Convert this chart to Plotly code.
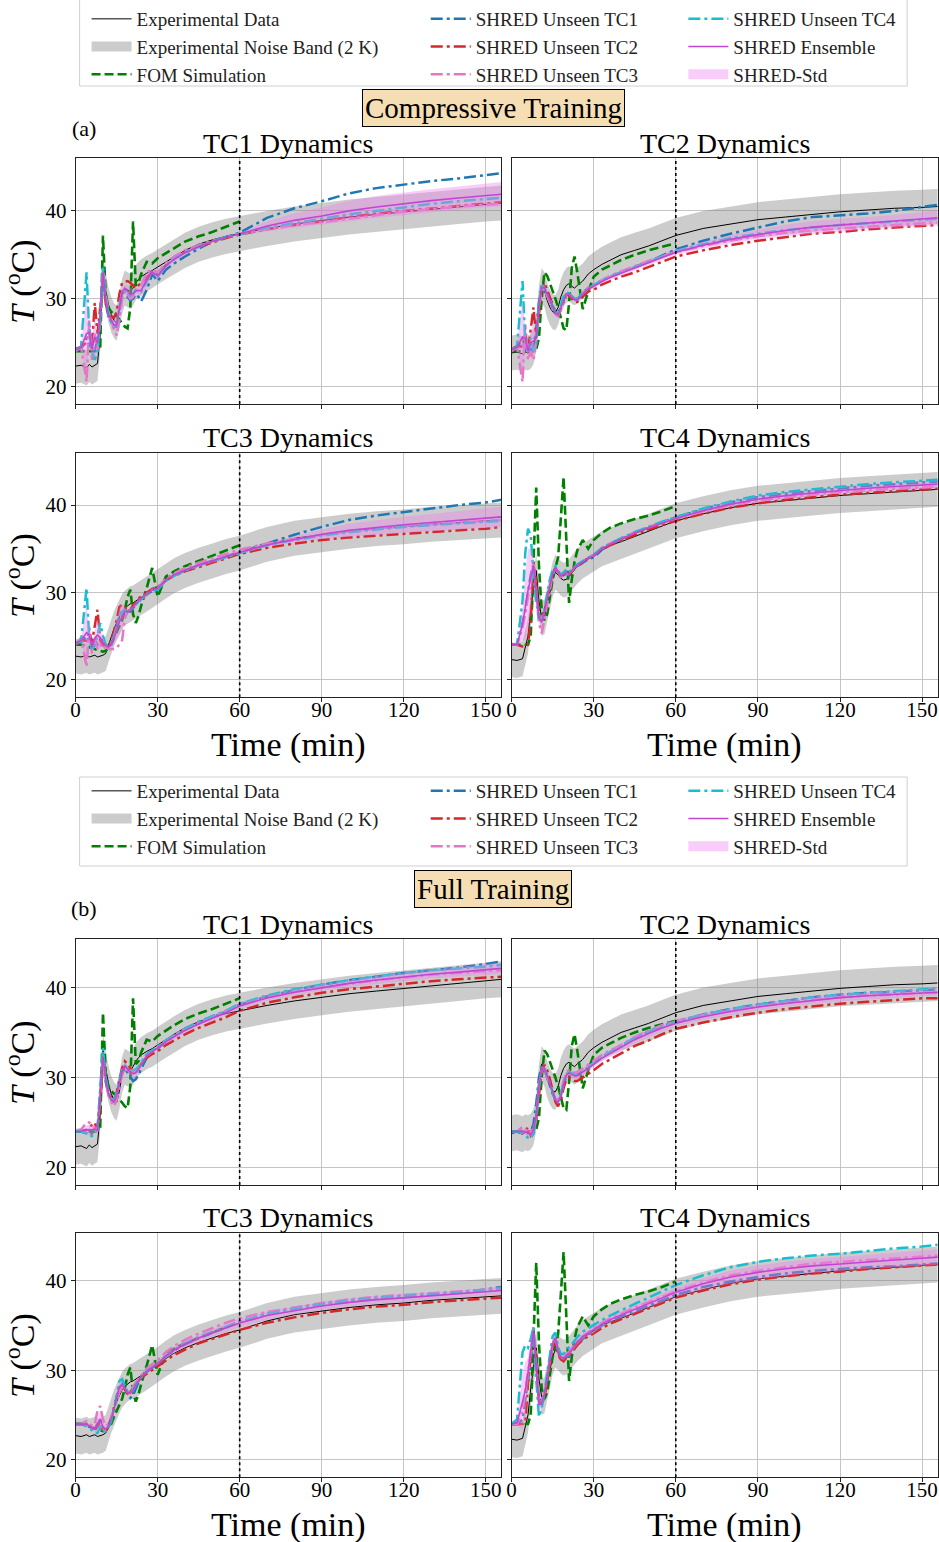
import numpy as np
import plotly.graph_objects as go

W, H = 939, 1542
FONT = "Liberation Serif"

# ---------------- data ----------------
TIME = [0, 2, 4, 5, 6, 7, 8, 9, 10, 11, 12, 13, 14, 15, 16, 17, 18, 19, 20, 21, 22, 23, 24,
        26, 28, 30, 33, 36, 40, 45, 50, 55, 60, 70, 80, 90, 100, 110, 120, 130, 140, 150, 155.7]
FOM_END = 60  # FOM simulation is shown up to 60 min

TC_NAMES = ["TC1", "TC2", "TC3", "TC4"]
X_TICKS = [0, 30, 60, 90, 120, 150]
Y_TICKS = [20, 30, 40]
NOISE_BAND_K = 2.0

# Experimental data (same experiment in both panels)
EXP_TC1 = [22.3, 22.4, 22.1, 22.5, 22.2, 22.4, 22.6, 26.0, 33.0, 31.0, 29.3, 28.2, 27.5, 27.2, 28.5, 30.3, 31.2, 31.0, 30.8, 31.2, 31.8, 32.2, 32.5,
           32.9, 33.2, 33.6, 34.2, 34.8, 35.5, 36.2, 36.7, 37.1, 37.4, 38.0, 38.5, 38.9, 39.3, 39.6, 39.9, 40.2, 40.5, 40.8, 40.9]
EXP_TC2 = [23.8, 23.9, 23.7, 23.9, 23.8, 24.0, 24.5, 26.0, 29.5, 31.5, 31.0, 29.8, 29.0, 28.5, 28.4, 29.0, 30.2, 31.0, 31.5, 31.7, 31.4, 31.2, 31.5,
           32.0, 32.8, 33.3, 33.9, 34.4, 35.0, 35.5, 36.0, 36.6, 37.2, 38.0, 38.5, 39.0, 39.3, 39.6, 39.9, 40.1, 40.3, 40.4, 40.5]
EXP_TC3 = [22.7, 22.6, 22.8, 22.6, 22.7, 22.8, 22.6, 22.7, 22.8, 23.0, 24.0, 25.0, 25.8, 26.5, 27.2, 27.8, 28.2, 28.5, 28.7, 28.8, 29.0, 29.2, 29.4,
           29.8, 30.2, 30.6, 31.3, 31.9, 32.5, 33.1, 33.6, 34.1, 34.5, 35.5, 36.2, 36.6, 37.0, 37.3, 37.5, 37.8, 38.0, 38.2, 38.3]
EXP_TC4 = [22.3, 22.2, 22.4, 23.8, 25.0, 28.0, 30.5, 32.5, 29.0, 27.0, 27.2, 28.5, 30.0, 31.5, 32.3, 32.0, 31.6, 31.4, 31.5, 31.8, 32.2, 32.6, 33.0,
           33.6, 34.0, 34.4, 35.0, 35.4, 35.8, 36.4, 37.0, 37.6, 38.2, 39.0, 39.7, 40.2, 40.5, 40.8, 41.1, 41.3, 41.5, 41.7, 41.8]

# FOM simulation (0 .. 60 min)
FOM_TC1 = [24.0, 24.0, 24.0, 24.0, 24.0, 24.0, 24.1, 24.5, 37.2, 30.5, 29.0, 28.5, 28.2, 28.0, 27.6, 27.2, 26.8, 26.6, 29.0, 38.8, 31.5, 31.8, 32.8,
           34.2, 34.0, 34.6, 35.2, 35.8, 36.5, 37.1, 37.6, 38.2, 38.8]
FOM_TC2 = [24.0, 24.0, 24.0, 24.0, 24.0, 24.0, 24.0, 24.2, 25.5, 30.0, 33.0, 32.6, 31.8, 31.0, 30.0, 29.0, 27.8, 26.6, 26.4, 29.5, 33.5, 34.8, 33.0,
           28.8, 30.8, 32.5, 33.3, 33.8, 34.4, 35.0, 35.5, 35.9, 36.3]
FOM_TC3 = [24.0, 24.0, 23.8, 23.7, 23.6, 23.5, 23.4, 23.3, 23.2, 23.3, 23.6, 24.0, 24.8, 25.5, 26.0, 26.8, 28.0, 29.5, 30.3, 27.5, 26.5, 27.3, 28.5,
           30.5, 32.8, 29.5, 31.8, 32.4, 33.0, 33.6, 34.2, 34.8, 35.4]
FOM_TC4 = [24.0, 24.0, 24.0, 24.0, 24.0, 25.0, 33.0, 42.0, 33.0, 28.0, 26.8, 27.5, 29.5, 31.5, 32.8, 34.0, 38.5, 43.2, 36.0, 28.8, 31.5, 33.5, 34.8,
           36.0, 35.0, 36.0, 36.8, 37.4, 37.9, 38.4, 38.8, 39.3, 39.9]

# (a) Compressive training: SHRED models with unseen TC1..TC4, predictions for each TC panel
CMP_TC1_U1 = [24.2, 24.2, 25.5, 24.5, 25.5, 24.0, 25.5, 28.0, 33.0, 29.5, 28.0, 27.3, 26.8, 26.8, 28.5, 30.5, 30.8, 30.2, 29.8, 30.0, 30.5, 30.2, 29.7,
              31.0, 32.8, 32.0, 33.3, 34.0, 34.8, 35.7, 36.5, 37.0, 37.5, 39.2, 40.3, 41.1, 42.0, 42.6, 43.0, 43.4, 43.7, 44.1, 44.3]
CMP_TC1_U2 = [24.3, 24.5, 25.0, 26.5, 24.5, 29.5, 26.0, 29.0, 32.0, 29.5, 28.0, 28.0, 27.8, 28.5, 30.5, 31.8, 31.9, 32.0, 31.8, 31.5, 31.2, 31.5, 31.8,
              32.5, 33.0, 32.8, 33.8, 34.6, 35.3, 35.9, 36.4, 36.9, 37.3, 37.9, 38.4, 38.8, 39.3, 39.7, 40.0, 40.3, 40.6, 40.9, 41.0]
CMP_TC1_U3 = [24.0, 24.5, 20.5, 27.5, 23.0, 26.0, 24.0, 28.0, 33.5, 30.5, 28.5, 27.5, 26.5, 25.8, 27.5, 30.0, 31.0, 30.5, 30.0, 30.2, 30.8, 31.0, 31.5,
              33.0, 33.3, 33.0, 34.0, 34.8, 35.5, 36.1, 36.6, 37.0, 37.4, 37.9, 38.4, 38.7, 39.1, 39.5, 39.9, 40.2, 40.5, 40.7, 40.8]
CMP_TC1_U4 = [24.2, 24.5, 33.0, 26.0, 24.0, 23.0, 24.0, 27.5, 33.5, 30.0, 28.3, 27.3, 26.8, 27.0, 29.0, 30.8, 31.0, 30.7, 30.3, 30.5, 31.0, 31.0, 30.8,
              32.0, 33.0, 32.5, 33.8, 34.5, 35.3, 35.9, 36.5, 37.0, 37.3, 38.1, 38.6, 39.1, 39.6, 40.0, 40.4, 40.8, 41.1, 41.4, 41.5]

CMP_TC2_U1 = [24.2, 24.3, 25.5, 24.0, 25.0, 24.0, 24.5, 26.5, 29.5, 31.5, 31.0, 30.3, 29.5, 28.8, 28.3, 28.2, 29.0, 30.0, 30.6, 30.6, 30.2, 29.9, 29.9,
              30.5, 31.2, 31.5, 32.0, 32.5, 33.0, 33.6, 34.2, 34.9, 35.6, 36.6, 37.4, 38.1, 38.8, 39.3, 39.5, 39.7, 40.0, 40.4, 40.7]
CMP_TC2_U2 = [24.2, 24.6, 24.5, 26.0, 24.0, 26.5, 29.0, 25.5, 28.5, 31.0, 31.8, 31.0, 30.0, 29.2, 28.5, 28.0, 28.8, 29.8, 30.4, 30.4, 30.0, 29.6, 29.6,
              30.2, 30.8, 31.0, 31.6, 32.0, 32.5, 33.0, 33.6, 34.2, 34.8, 35.5, 36.1, 36.6, 37.0, 37.4, 37.6, 37.9, 38.1, 38.3, 38.4]
CMP_TC2_U3 = [24.0, 24.5, 20.5, 27.0, 23.0, 24.0, 23.0, 25.0, 29.0, 31.0, 31.0, 30.2, 29.5, 28.8, 28.2, 28.0, 28.8, 29.8, 30.5, 30.6, 30.2, 29.9, 30.0,
              30.7, 31.3, 31.6, 32.1, 32.6, 33.1, 33.7, 34.3, 34.8, 35.3, 36.0, 36.6, 37.1, 37.5, 37.8, 38.0, 38.2, 38.4, 38.6, 38.7]
CMP_TC2_U4 = [24.3, 24.5, 32.0, 25.0, 24.0, 25.5, 24.0, 25.0, 29.5, 31.5, 31.2, 30.5, 29.7, 29.0, 28.5, 28.3, 29.2, 30.2, 30.7, 30.6, 30.3, 30.0, 30.0,
              30.6, 31.2, 31.5, 32.1, 32.5, 33.0, 33.6, 34.2, 34.8, 35.4, 36.2, 36.9, 37.4, 37.8, 38.1, 38.4, 38.6, 38.8, 39.0, 39.1]

CMP_TC3_U1 = [24.2, 24.3, 25.0, 24.5, 24.0, 24.5, 24.0, 24.3, 24.5, 24.0, 23.8, 24.0, 25.0, 26.0, 27.3, 27.8, 28.0, 27.8, 27.8, 28.2, 28.7, 29.0, 29.3,
              29.8, 30.2, 30.4, 31.4, 32.0, 32.5, 33.1, 33.6, 34.1, 34.6, 35.6, 36.6, 37.5, 38.3, 38.8, 39.2, 39.6, 40.0, 40.3, 40.6]
CMP_TC3_U2 = [24.2, 24.5, 24.5, 25.5, 24.3, 26.0, 28.0, 24.5, 24.0, 23.8, 23.8, 24.5, 25.5, 26.8, 28.3, 28.6, 28.3, 27.8, 28.0, 28.5, 29.0, 29.3, 29.5,
              30.0, 30.4, 30.6, 31.4, 31.9, 32.4, 32.9, 33.4, 33.9, 34.4, 35.1, 35.6, 36.0, 36.3, 36.5, 36.7, 36.9, 37.1, 37.3, 37.5]
CMP_TC3_U3 = [24.0, 24.8, 21.5, 26.0, 23.0, 24.5, 23.5, 24.0, 23.5, 23.8, 23.5, 23.5, 23.5, 23.6, 24.0, 24.5, 27.0, 27.8, 28.0, 28.3, 28.7, 29.0, 29.3,
              29.8, 30.3, 30.5, 31.6, 32.2, 32.8, 33.4, 33.9, 34.4, 34.9, 35.6, 36.1, 36.6, 37.0, 37.3, 37.6, 37.8, 38.0, 38.2, 38.3]
CMP_TC3_U4 = [24.2, 24.4, 30.5, 24.5, 23.5, 24.0, 25.0, 26.5, 25.0, 24.0, 23.8, 24.0, 25.0, 26.0, 27.0, 27.8, 28.0, 27.8, 27.9, 28.2, 28.6, 29.0, 29.3,
              29.8, 30.2, 30.3, 31.3, 31.9, 32.5, 33.1, 33.6, 34.0, 34.5, 35.4, 36.0, 36.5, 36.9, 37.2, 37.5, 37.7, 37.9, 38.1, 38.2]

CMP_TC4_U1 = [24.0, 24.0, 26.5, 28.0, 30.0, 32.0, 33.3, 30.5, 27.5, 27.0, 27.8, 29.3, 30.8, 32.0, 32.8, 32.3, 31.8, 32.0, 32.2, 31.9, 32.3, 32.8, 33.0,
              33.4, 33.8, 34.0, 34.9, 35.5, 36.1, 36.8, 37.4, 38.0, 38.6, 39.5, 40.3, 40.9, 41.3, 41.6, 41.9, 42.2, 42.4, 42.6, 42.7]
CMP_TC4_U2 = [24.0, 24.0, 23.8, 23.8, 24.0, 27.0, 33.5, 31.0, 27.5, 27.0, 27.8, 29.3, 30.8, 32.0, 32.8, 32.3, 31.8, 32.0, 32.2, 32.0, 32.4, 32.8, 33.0,
              33.5, 33.9, 34.2, 34.9, 35.4, 35.9, 36.6, 37.2, 37.7, 38.2, 39.0, 39.7, 40.2, 40.6, 40.9, 41.2, 41.4, 41.6, 41.8, 41.9]
CMP_TC4_U3 = [24.0, 24.0, 26.0, 27.5, 29.5, 31.0, 33.5, 30.0, 26.5, 25.3, 27.0, 29.0, 30.5, 32.0, 32.8, 32.3, 31.8, 32.0, 32.2, 32.0, 32.4, 32.9, 33.1,
              33.6, 34.0, 34.3, 35.1, 35.6, 36.2, 36.9, 37.5, 38.0, 38.5, 39.3, 40.0, 40.5, 40.9, 41.2, 41.5, 41.7, 41.9, 42.0, 42.1]
CMP_TC4_U4 = [24.0, 24.0, 29.0, 34.5, 37.3, 36.5, 32.0, 29.0, 27.0, 27.0, 28.0, 29.8, 31.5, 32.5, 33.0, 32.5, 32.0, 32.3, 32.6, 32.3, 32.6, 33.0, 33.2,
              33.6, 34.0, 34.3, 35.1, 35.6, 36.2, 36.9, 37.5, 38.1, 38.6, 39.6, 40.4, 41.1, 41.5, 41.8, 42.1, 42.4, 42.6, 42.8, 42.9]

# (b) Full training
FUL_TC1_U1 = [24.0, 24.0, 23.8, 23.6, 23.8, 24.0, 24.3, 28.0, 32.0, 29.5, 28.3, 27.5, 27.3, 28.0, 29.3, 30.5, 31.0, 30.5, 30.0, 29.6, 29.8, 30.3, 31.0,
              32.2, 32.8, 33.2, 34.0, 34.6, 35.3, 36.0, 36.7, 37.3, 38.1, 39.0, 39.7, 40.3, 40.8, 41.2, 41.6, 41.9, 42.2, 42.6, 42.9]
FUL_TC1_U2 = [24.0, 24.0, 24.2, 24.5, 24.8, 25.0, 24.0, 27.0, 31.5, 30.0, 28.5, 27.8, 27.5, 28.3, 29.8, 31.0, 31.8, 31.5, 31.0, 30.8, 30.8, 31.0, 31.5,
              32.2, 32.6, 32.9, 33.6, 34.1, 34.8, 35.5, 36.1, 36.7, 37.4, 38.3, 38.9, 39.4, 39.8, 40.1, 40.4, 40.7, 40.9, 41.1, 41.2]
FUL_TC1_U3 = [24.0, 24.2, 25.0, 25.0, 24.8, 24.3, 24.0, 28.0, 32.5, 29.5, 28.0, 27.3, 26.8, 27.5, 28.8, 30.3, 31.0, 30.8, 30.5, 30.5, 30.6, 31.0, 31.6,
              32.6, 33.0, 33.4, 34.1, 34.7, 35.4, 36.1, 36.8, 37.4, 38.1, 38.9, 39.5, 40.0, 40.4, 40.8, 41.1, 41.4, 41.6, 41.8, 41.9]
FUL_TC1_U4 = [24.0, 24.0, 23.8, 23.5, 23.5, 23.8, 24.3, 28.5, 33.3, 30.0, 28.3, 27.5, 27.5, 28.3, 29.5, 30.8, 31.3, 31.0, 30.8, 30.8, 30.9, 31.2, 31.7,
              32.6, 33.0, 33.4, 34.1, 34.7, 35.4, 36.2, 36.8, 37.4, 38.2, 39.1, 39.8, 40.3, 40.8, 41.2, 41.6, 41.9, 42.1, 42.3, 42.5]

FUL_TC2_U1 = [24.0, 24.0, 24.0, 23.8, 23.8, 24.0, 24.8, 27.0, 30.0, 31.3, 30.8, 30.0, 29.0, 28.2, 27.6, 27.4, 28.0, 29.3, 30.3, 30.6, 30.5, 30.3, 30.3,
              30.7, 31.2, 31.6, 32.3, 32.8, 33.5, 34.4, 35.1, 35.7, 36.2, 37.0, 37.6, 38.1, 38.5, 38.9, 39.2, 39.4, 39.5, 39.7, 39.8]
FUL_TC2_U2 = [24.0, 24.0, 23.8, 24.0, 24.5, 23.5, 23.8, 25.0, 28.0, 30.8, 31.4, 30.8, 29.8, 28.5, 27.3, 26.8, 27.5, 28.8, 29.8, 30.0, 29.8, 29.6, 29.6,
              30.0, 30.4, 30.8, 31.5, 32.0, 32.6, 33.5, 34.1, 34.8, 35.4, 36.1, 36.7, 37.2, 37.6, 37.9, 38.2, 38.4, 38.6, 38.8, 38.8]
FUL_TC2_U3 = [24.0, 24.0, 24.5, 24.3, 23.8, 24.0, 24.2, 25.5, 29.0, 30.8, 30.8, 30.0, 29.2, 28.3, 27.6, 27.5, 28.3, 29.6, 30.6, 30.8, 30.7, 30.5, 30.6,
              31.0, 31.4, 31.8, 32.5, 33.0, 33.6, 34.5, 35.2, 35.8, 36.3, 36.9, 37.4, 37.9, 38.3, 38.6, 38.9, 39.1, 39.2, 39.4, 39.4]
FUL_TC2_U4 = [24.0, 24.0, 23.8, 23.5, 23.3, 23.2, 23.8, 25.5, 29.0, 31.0, 31.0, 30.2, 29.3, 28.3, 27.5, 27.3, 28.0, 29.3, 30.3, 30.6, 30.5, 30.3, 30.3,
              30.7, 31.2, 31.6, 32.3, 32.8, 33.5, 34.4, 35.1, 35.7, 36.2, 37.0, 37.6, 38.1, 38.5, 38.9, 39.2, 39.4, 39.6, 39.8, 39.9]

FUL_TC3_U1 = [24.0, 24.0, 23.8, 23.6, 23.5, 23.4, 23.6, 24.5, 23.6, 23.5, 23.8, 24.5, 25.5, 27.0, 28.3, 28.5, 28.0, 27.2, 26.9, 27.2, 28.0, 28.7, 29.1,
              29.8, 30.3, 30.7, 31.6, 32.2, 32.9, 33.6, 34.2, 34.8, 35.4, 36.3, 36.9, 37.4, 37.8, 38.1, 38.3, 38.5, 38.7, 39.0, 39.3]
FUL_TC3_U2 = [24.0, 24.0, 24.0, 24.0, 23.6, 23.4, 24.0, 23.7, 23.2, 23.2, 23.6, 24.5, 25.8, 27.0, 28.0, 28.3, 27.8, 27.4, 27.6, 28.0, 28.5, 28.9, 29.2,
              29.6, 30.0, 30.4, 31.1, 31.7, 32.3, 33.0, 33.5, 34.0, 34.5, 35.3, 35.9, 36.4, 36.8, 37.1, 37.3, 37.6, 37.8, 38.0, 38.1]
FUL_TC3_U3 = [24.0, 24.0, 24.3, 24.0, 23.8, 24.0, 25.5, 26.0, 24.5, 23.8, 24.0, 24.8, 25.5, 26.5, 27.5, 28.0, 27.8, 27.6, 27.8, 28.2, 28.7, 29.1, 29.5,
              30.2, 30.7, 31.1, 32.0, 32.7, 33.4, 34.1, 34.7, 35.3, 35.8, 36.5, 37.0, 37.5, 37.9, 38.2, 38.4, 38.6, 38.8, 39.0, 39.1]
FUL_TC3_U4 = [24.0, 24.0, 23.8, 23.6, 23.3, 23.0, 23.0, 23.8, 23.2, 23.2, 23.6, 24.3, 25.5, 27.0, 28.8, 29.0, 28.3, 27.6, 27.5, 27.8, 28.4, 28.9, 29.2,
              29.9, 30.4, 30.8, 31.6, 32.3, 33.0, 33.7, 34.3, 34.8, 35.4, 36.3, 36.9, 37.4, 37.8, 38.1, 38.3, 38.5, 38.7, 39.0, 39.1]

FUL_TC4_U1 = [24.0, 24.0, 24.5, 26.5, 28.5, 31.0, 34.0, 31.0, 26.8, 26.5, 27.3, 29.0, 31.0, 32.8, 33.5, 32.0, 31.3, 31.2, 31.5, 31.5, 32.0, 32.5, 32.9,
              33.5, 34.0, 34.3, 35.0, 35.5, 36.0, 36.6, 37.2, 37.8, 38.4, 39.3, 39.9, 40.4, 40.8, 41.1, 41.3, 41.5, 41.6, 41.8, 41.9]
FUL_TC4_U2 = [24.0, 24.0, 24.0, 24.2, 28.5, 31.5, 34.0, 31.0, 26.5, 26.2, 27.0, 28.8, 30.8, 32.5, 33.2, 31.8, 31.2, 31.0, 31.4, 31.6, 32.0, 32.4, 32.8,
              33.4, 33.8, 34.1, 34.7, 35.2, 35.7, 36.3, 36.9, 37.5, 38.1, 38.9, 39.6, 40.1, 40.5, 40.8, 41.0, 41.3, 41.5, 41.7, 41.8]
FUL_TC4_U3 = [24.0, 24.0, 25.5, 27.5, 29.5, 32.0, 35.0, 30.5, 26.5, 26.5, 27.5, 29.3, 31.3, 33.0, 33.6, 32.3, 31.5, 31.5, 31.8, 32.0, 32.4, 32.8, 33.2,
              33.8, 34.2, 34.6, 35.3, 35.8, 36.3, 37.0, 37.6, 38.2, 38.8, 39.8, 40.6, 41.1, 41.5, 41.9, 42.1, 42.3, 42.5, 42.7, 42.8]
FUL_TC4_U4 = [24.0, 24.5, 32.0, 32.8, 32.5, 33.5, 34.8, 29.0, 24.8, 25.8, 27.5, 29.8, 32.0, 33.8, 34.2, 32.5, 31.8, 31.8, 32.2, 32.5, 32.9, 33.3, 33.7,
              34.3, 34.7, 35.0, 35.6, 36.1, 36.7, 37.4, 38.1, 38.8, 39.5, 40.6, 41.5, 42.1, 42.5, 42.8, 43.0, 43.3, 43.6, 43.8, 44.0]

EXP = [EXP_TC1, EXP_TC2, EXP_TC3, EXP_TC4]
FOM = [FOM_TC1, FOM_TC2, FOM_TC3, FOM_TC4]
SHRED = {
    0: [[CMP_TC1_U1, CMP_TC1_U2, CMP_TC1_U3, CMP_TC1_U4],
        [CMP_TC2_U1, CMP_TC2_U2, CMP_TC2_U3, CMP_TC2_U4],
        [CMP_TC3_U1, CMP_TC3_U2, CMP_TC3_U3, CMP_TC3_U4],
        [CMP_TC4_U1, CMP_TC4_U2, CMP_TC4_U3, CMP_TC4_U4]],
    1: [[FUL_TC1_U1, FUL_TC1_U2, FUL_TC1_U3, FUL_TC1_U4],
        [FUL_TC2_U1, FUL_TC2_U2, FUL_TC2_U3, FUL_TC2_U4],
        [FUL_TC3_U1, FUL_TC3_U2, FUL_TC3_U3, FUL_TC3_U4],
        [FUL_TC4_U1, FUL_TC4_U2, FUL_TC4_U3, FUL_TC4_U4]],
}
GROUP_TITLES = ["Compressive Training", "Full Training"]
GROUP_LABELS = ["(a)", "(b)"]

for arr in EXP:
    assert len(arr) == len(TIME)
nfom = TIME.index(FOM_END) + 1
for arr in FOM:
    assert len(arr) == nfom
for g in SHRED:
    for panel in SHRED[g]:
        for arr in panel:
            assert len(arr) == len(TIME), len(arr)

# ---------------- style ----------------
SHRED_COLORS = ["#1f77b4", "#d62728", "#e377c2", "#17becf"]
ENS_COLOR = "#c445d2"
STD_FILL = "rgba(238,130,238,0.4)"
STD_LEGEND = "#f9cdf9"
BAND_FILL = "rgba(128,128,128,0.4)"
BAND_LEGEND = "#cccccc"
FOM_COLOR = "#008000"
DASHDOT = "12px,4px,3px,4px"
DASH = "9px,4px"

XDOM_PX = [(71, 499), (509.3, 937.7)]
YDOM_PX = {(0, 0): (158.3, 404.0), (0, 1): (452.7, 697.3),
           (1, 0): (939.3, 1185.0), (1, 1): (1232.7, 1477.3)}
YRANGE = {0: [17.98, 46.0], 1: [18.05, 45.35]}
XRANGE = [0, 155.7]


def fx(px):
    return px / W


def fy(py):
    return 1 - py / H


fig = go.Figure()
t = np.array(TIME, dtype=float)
tf = t[:nfom]

legend_cols = {0: ["legend", "legend2", "legend3"], 1: ["legend4", "legend5", "legend6"]}

layout_axes = {}
shapes = []
annotations = []

for g in (0, 1):
    for k in range(4):
        r, c = divmod(k, 2)
        n = g * 4 + k + 1
        xa = "x" if n == 1 else f"x{n}"
        ya = "y" if n == 1 else f"y{n}"
        first = (k == 0)
        lg = legend_cols[g]

        exp = np.array(EXP[k])
        fom = np.array(FOM[k])
        models = np.array(SHRED[g][k])
        ens = models.mean(axis=0)
        std = models.std(axis=0)

        # noise band
        fig.add_trace(go.Scatter(
            x=np.concatenate([t, t[::-1]]),
            y=np.concatenate([exp + NOISE_BAND_K, (exp - NOISE_BAND_K)[::-1]]),
            fill="toself", fillcolor=BAND_FILL, line=dict(width=0), mode="lines",
            name="Experimental Noise Band (2 K)", showlegend=False,
            xaxis=xa, yaxis=ya, hoverinfo="skip"))
        # experimental
        fig.add_trace(go.Scatter(
            x=t, y=exp, mode="lines", line=dict(color="black", width=1),
            name="Experimental Data", legend=lg[0], legendrank=1,
            showlegend=first, xaxis=xa, yaxis=ya))
        # FOM
        fig.add_trace(go.Scatter(
            x=tf, y=fom, mode="lines", line=dict(color=FOM_COLOR, width=2.6, dash=DASH),
            name="FOM Simulation", legend=lg[0], legendrank=3,
            showlegend=first, xaxis=xa, yaxis=ya))
        # SHRED models
        for m in range(4):
            fig.add_trace(go.Scatter(
                x=t, y=models[m], mode="lines",
                line=dict(color=SHRED_COLORS[m], width=2.5, dash=DASHDOT),
                name=f"SHRED Unseen {TC_NAMES[m]}",
                legend=lg[1] if m < 3 else lg[2], legendrank=m + 1 if m < 3 else 1,
                showlegend=first, xaxis=xa, yaxis=ya))
        # std band
        fig.add_trace(go.Scatter(
            x=np.concatenate([t, t[::-1]]),
            y=np.concatenate([ens + std, (ens - std)[::-1]]),
            fill="toself", fillcolor=STD_FILL, line=dict(width=0), mode="lines",
            name="SHRED-Std", showlegend=False,
            xaxis=xa, yaxis=ya, hoverinfo="skip"))
        # ensemble
        fig.add_trace(go.Scatter(
            x=t, y=ens, mode="lines", line=dict(color=ENS_COLOR, width=1.6),
            name="SHRED Ensemble", legend=lg[2], legendrank=2,
            showlegend=first, xaxis=xa, yaxis=ya))

        if first:
            # legend swatches for the two shaded bands (no data of their own)
            fig.add_trace(go.Scatter(
                x=[None], y=[None], mode="lines", line=dict(color=BAND_LEGEND, width=14),
                name="Experimental Noise Band (2 K)", legend=lg[0], legendrank=2,
                xaxis=xa, yaxis=ya, hoverinfo="skip"))
            fig.add_trace(go.Scatter(
                x=[None], y=[None], mode="lines", line=dict(color=STD_LEGEND, width=14),
                name="SHRED-Std", legend=lg[2], legendrank=3,
                xaxis=xa, yaxis=ya, hoverinfo="skip"))

        x0, x1 = XDOM_PX[c]
        y0, y1 = YDOM_PX[(g, r)]
        common = dict(showline=True, mirror=True, linecolor="#222", linewidth=1,
                      ticks="outside", ticklen=4, tickcolor="#222",
                      showgrid=True, gridcolor="#c4c4c4", gridwidth=1, zeroline=False,
                      tickfont=dict(family=FONT, size=21, color="black"))
        layout_axes["xaxis" if n == 1 else f"xaxis{n}"] = dict(
            domain=[fx(x0), fx(x1)], anchor=ya, range=XRANGE, tickvals=X_TICKS,
            showticklabels=(r == 1), ticklabelstandoff=-11, **common)
        layout_axes["yaxis" if n == 1 else f"yaxis{n}"] = dict(
            domain=[fy(y1), fy(y0)], anchor=xa, range=YRANGE[g], tickvals=Y_TICKS,
            showticklabels=(c == 0), **common)

        # t = 60 min divider
        shapes.append(dict(type="line", xref=xa, yref=f"{ya} domain", x0=60, x1=60, y0=0, y1=1,
                           line=dict(color="black", width=1.6, dash="dot")))
        # subplot title
        annotations.append(dict(text=f"{TC_NAMES[k]} Dynamics", x=fx((x0 + x1) / 2), y=fy(y0 + 2.5),
                                xref="paper", yref="paper", xanchor="center", yanchor="bottom",
                                showarrow=False, font=dict(family=FONT, size=28, color="black")))
        if c == 0:
            annotations.append(dict(text="<i>T</i> (<sup>o</sup>C)", x=fx(15), y=fy((y0 + y1) / 2),
                                    xref="paper", yref="paper", xanchor="center", yanchor="middle",
                                    textangle=-90, showarrow=False,
                                    font=dict(family=FONT, size=34, color="black")))
        if r == 1:
            annotations.append(dict(text="Time (min)", x=fx((x0 + x1) / 2), y=fy(y1 + 48),
                                    xref="paper", yref="paper", xanchor="center", yanchor="middle",
                                    showarrow=False, font=dict(family=FONT, size=34, color="black")))

# group headers, legends
LEG_TOP = {0: 0, 1: 772}
TITLE_Y = {0: 108, 1: 889}
LABEL_Y = {0: 128, 1: 908}
FRAME = {0: (-2, 86), 1: (777, 866)}
COL_X = [82, 423, 682]
legends = {}
for g in (0, 1):
    for ci, lname in enumerate(legend_cols[g]):
        legends[lname] = dict(x=fx(COL_X[ci]), xanchor="left", y=fy(LEG_TOP[g]), yanchor="top",
                              orientation="v", bgcolor="rgba(0,0,0,0)", borderwidth=0,
                              itemwidth=40, font=dict(family=FONT, size=19, color="#222"),
                              tracegroupgap=0)
    fy0, fy1 = FRAME[g]
    shapes.append(dict(type="rect", xref="paper", yref="paper", x0=fx(75), x1=fx(907),
                       y0=fy(fy1), y1=fy(fy0), line=dict(color="#d0d0d0", width=1),
                       fillcolor="rgba(255,255,255,0.8)", layer="below"))
    annotations.append(dict(text=GROUP_TITLES[g], x=fx(491), y=fy(TITLE_Y[g]), xref="paper", yref="paper",
                            xanchor="center", yanchor="middle", showarrow=False,
                            bgcolor="#f5deb3", bordercolor="black", borderwidth=1, borderpad=2,
                            font=dict(family=FONT, size=29, color="black")))
    annotations.append(dict(text=GROUP_LABELS[g], x=fx(79), y=fy(LABEL_Y[g]), xref="paper", yref="paper",
                            xanchor="center", yanchor="middle", showarrow=False,
                            font=dict(family=FONT, size=22, color="black")))

fig.update_layout(width=W, height=H, margin=dict(l=0, r=0, t=0, b=0),
                  paper_bgcolor="white", plot_bgcolor="white",
                  shapes=shapes, annotations=annotations, showlegend=True,
                  **layout_axes, **legends)

fig.write_html("out.html", config={"displayModeBar": False},
               post_script="document.body.style.margin='0';"
                           "document.documentElement.style.overflow='hidden';")
